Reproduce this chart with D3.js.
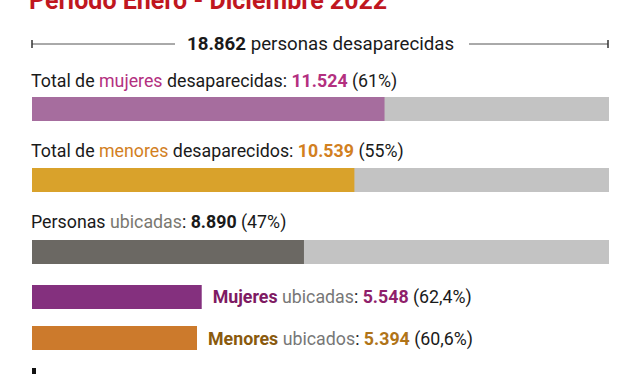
<!DOCTYPE html>
<html>
<head>
<meta charset="utf-8">
<script src="https://d3js.org/d3.v7.min.js"></script>
<style>
  body { margin: 0; background: #fff; }
  svg { display: block; font-family: Roboto, sans-serif; }
</style>
</head>
<body>
<svg></svg>
<script>
// data
let total = 18862
let titles = ["Periodo Enero - Diciembre 2022"]
let barNames = ["mujeres", "menores", "ubicadas", "mujeresUbicadas", "menoresUbicados"]
let barValues = [11524, 10539, 8890, 5548, 5394]
let barPercents = ["61%", "55%", "47%", "62,4%", "60,6%"]
let barColors = ["#a66d9e", "#d9a22b", "#6b6863", "#84307e", "#cc7a2c"]

let width = 640, height = 374
let svg = d3.select("svg").attr("width", width).attr("height", height)

let x = d3.scaleLinear().domain([0, total]).range([32, 609])

// title (cut at top)
svg.append("text")
  .attr("x", 29).attr("y", 9)
  .attr("fill", "#c0171f")
  .style("font-size", "25px").style("font-weight", "bold")
  .text(titles[0])

// header line with total
let hy = 44
svg.append("line").attr("x1", 32).attr("x2", 175).attr("y1", hy).attr("y2", hy).attr("stroke", "#555").attr("stroke-width", 1)
svg.append("line").attr("x1", 469).attr("x2", 608).attr("y1", hy).attr("y2", hy).attr("stroke", "#555").attr("stroke-width", 1)
;[32, 608].forEach(px => {
  svg.append("line").attr("x1", px).attr("x2", px).attr("y1", hy - 4).attr("y2", hy + 4).attr("stroke", "#333").attr("stroke-width", 1.5)
})
let fmt = v => d3.format(",")(v).replace(/,/g, ".")

let ht = svg.append("text").attr("x", 187).attr("y", 50).style("font-size", "18.7px").attr("fill", "#1a1a1a")
ht.append("tspan").style("font-weight", "bold").text(fmt(total))
ht.append("tspan").text(" personas desaparecidas")

// full-width bars (top three)
let fullY = [97, 168, 240]
let barH = 24
fullY.forEach((y, i) => {
  svg.append("rect").attr("x", x(0)).attr("y", y).attr("width", x(total) - x(0)).attr("height", barH).attr("fill", "#c3c3c3")
  svg.append("rect").attr("x", x(0)).attr("y", y).attr("width", x(barValues[i]) - x(0)).attr("height", barH).attr("fill", barColors[i])
})

function label(xp, yp, parts) {
  let t = svg.append("text").attr("x", xp).attr("y", yp).style("font-size", "17.8px").attr("fill", "#1a1a1a")
  parts.forEach(p => {
    let s = t.append("tspan").text(p[0])
    if (p[1]) s.attr("fill", p[1])
    if (p[2]) s.style("font-weight", "bold")
  })
}

label(31, 87, [["Total de "], ["mujeres", "#b3307f"], [" desaparecidas: "], [fmt(barValues[0]), "#b3307f", true], [" (" + barPercents[0] + ")"]])
label(31, 157, [["Total de "], ["menores", "#d2801f"], [" desaparecidos: "], [fmt(barValues[1]), "#d2801f", true], [" (" + barPercents[1] + ")"]])
label(31, 228, [["Personas "], ["ubicadas", "#7a7870"], [": "], [fmt(barValues[2]), null, true], [" (" + barPercents[2] + ")"]])

// located bars
let smallY = [285, 326]
smallY.forEach((y, j) => {
  let i = j + 3
  svg.append("rect").attr("x", x(0)).attr("y", y).attr("width", x(barValues[i]) - x(0)).attr("height", barH).attr("fill", barColors[i])
})
label(x(barValues[3]) + 11, 303, [["Mujeres", "#7e1a63", true], [" ubicadas", "#777"], [": "], [fmt(barValues[3]), "#8f1f6b", true], [" (" + barPercents[3] + ")"]])
label(x(barValues[4]) + 11, 345, [["Menores", "#8a5a0e", true], [" ubicados", "#777"], [": "], [fmt(barValues[4]), "#b07418", true], [" (" + barPercents[4] + ")"]])

// bottom marker (cut off)
svg.append("rect").attr("x", 32).attr("y", 368).attr("width", 4).attr("height", 8).attr("fill", "#111")
</script>
</body>
</html>
